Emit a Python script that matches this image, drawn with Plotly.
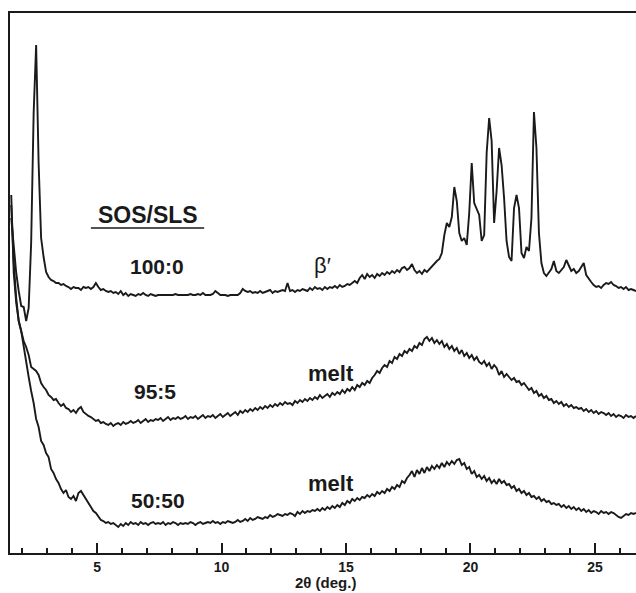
import plotly.graph_objects as go

# 2-theta sampling grid (deg.), 0.1 deg steps starting at 1.55
start_2theta = 1.55
step_2theta = 0.1
n_points = 252
two_theta = [round(start_2theta + step_2theta * i, 2) for i in range(n_points)]

# Intensities (arbitrary units, stacked as displayed)
sos_100_0 = [
    335, 305, 280, 262, 247, 246, 232, 245, 310, 440,
    508, 390, 315, 296, 281, 276, 273, 272, 270, 270,
    268, 269, 267, 266, 264, 266, 265, 265, 263, 266,
    265, 266, 264, 266, 270, 266, 263, 264, 262, 261,
    262, 260, 261, 259, 262, 258, 260, 257, 259, 258,
    257, 259, 258, 260, 258, 257, 259, 258, 257, 258,
    258, 258, 258, 258, 258, 258, 259, 258, 258, 258,
    258, 258, 259, 258, 258, 259, 258, 260, 258, 258,
    258, 259, 262, 260, 258, 258, 258, 257, 258, 258,
    258, 258, 260, 264, 262, 261, 262, 260, 261, 260,
    262, 260, 261, 262, 263, 260, 262, 261, 262, 263,
    262, 270, 262, 263, 261, 263, 262, 264, 263, 262,
    265, 263, 266, 264, 265, 263, 266, 264, 266, 265,
    267, 265, 268, 266, 267, 269, 268, 270, 272, 270,
    275, 278, 274, 279, 276, 278, 275, 279, 277, 280,
    278, 281, 279, 282, 280, 283, 281, 285, 286, 283,
    285, 289, 283, 280, 282, 279, 283, 281, 284, 287,
    290, 292, 294, 300, 318, 330, 326, 336, 366, 352,
    320, 312, 315, 308, 340, 390, 350, 344, 338, 312,
    318, 400, 435, 412, 330, 362, 405, 388, 355, 312,
    296, 292, 345, 358, 345, 300, 295, 306, 302, 335,
    441, 405, 320, 290, 280, 277, 280, 284, 292, 282,
    280, 283, 286, 293, 288, 282, 284, 280, 282, 286,
    290, 278, 274, 271, 268, 266, 267, 265, 268, 270,
    269, 271, 268, 267, 265, 266, 264, 266, 263, 264,
    263, 262,
]

sos_95_5 = [
    348, 290, 255, 232, 222, 212, 206, 198, 186, 184,
    182, 178, 170, 166, 163, 158, 156, 153, 154, 150,
    147, 149, 145, 144, 141, 143, 140, 144, 146, 141,
    139, 137, 136, 134, 132, 133, 130, 131, 129, 128,
    130, 127, 129, 130, 128, 131, 129, 130, 132, 130,
    131, 133, 130, 132, 134, 131, 133, 132, 134, 133,
    135, 132, 134, 136, 133, 135, 134, 136, 134, 135,
    137, 134, 136, 135, 137, 134, 136, 138, 135, 137,
    136, 138, 135, 137, 139, 136, 138, 140, 137, 139,
    141, 138, 142, 140, 143, 141, 144, 142, 145, 143,
    146, 144, 147, 145, 148, 146, 149, 147, 150, 148,
    151, 149, 150, 148, 152, 150, 153, 151, 154, 152,
    155, 153, 156, 154, 158, 155, 157, 159, 156, 160,
    158, 161, 159, 163, 160, 164, 162, 166, 163, 168,
    166, 170, 168, 172, 170, 175, 178, 182, 180, 185,
    188, 186, 192, 190, 196, 194, 199, 197, 202, 200,
    204, 202, 207, 205, 210, 208, 214, 216, 212, 215,
    210, 213, 209, 212, 206, 209, 204, 207, 202, 205,
    199, 203, 197, 200, 195, 198, 193, 196, 191, 189,
    192, 187, 190, 184, 188, 185, 178, 182, 176, 179,
    176, 173, 175, 171, 172, 168, 170, 166, 163, 165,
    160, 162, 157, 159, 155, 157, 153, 154, 150, 152,
    149, 151, 147, 149, 146, 148, 145, 146, 144, 145,
    142, 144, 141, 143, 140, 142, 139, 141, 140, 138,
    140, 137, 139, 136, 138, 137, 135, 138, 136, 137,
    135, 137,
]

sos_50_50 = [
    358, 280, 250, 232, 222, 205, 190, 176, 162, 150,
    134, 126, 112, 108, 100, 96, 84, 80, 74, 70,
    64, 60, 63, 56, 54, 57, 52, 60, 62, 58,
    54, 50, 47, 42, 40, 37, 33, 32, 30, 31,
    29, 30, 28, 26, 29, 27, 30, 28, 31, 29,
    30, 28, 31, 29, 30, 28, 30, 31, 29, 30,
    29, 31, 28, 30, 29, 31, 30, 28, 30, 29,
    30, 29, 31, 30, 28, 30, 31, 29, 30, 31,
    30, 32, 30, 31, 29, 31, 30, 32, 31, 30,
    31, 33, 31, 32, 34, 32, 35, 33, 34, 36,
    35, 34, 36, 35, 38, 36, 37, 39, 38, 37,
    39, 38, 40, 39, 37, 41, 39, 42, 40, 42,
    41, 43, 42, 44, 42, 45, 43, 46, 44, 47,
    45, 48, 46, 50, 48, 52, 50, 54, 52, 55,
    53, 56, 55, 58, 56, 59, 57, 61, 59, 62,
    60, 64, 62, 66, 64, 68, 66, 72, 70, 75,
    78, 82, 76, 83, 79, 85, 80, 86, 82, 87,
    84, 88, 85, 90, 86, 91, 88, 92, 89, 93,
    94, 88, 90, 84, 86, 79, 82, 76, 78, 74,
    77, 72, 75, 70, 73, 69, 74, 70, 72, 68,
    69, 65, 67, 62, 64, 60, 62, 58, 60, 56,
    57, 54, 56, 52, 54, 51, 52, 49, 50, 48,
    49, 46, 48, 45, 47, 44, 46, 43, 45, 42,
    44, 41, 43, 40, 42, 41, 39, 42, 40, 41,
    39, 41, 40, 38, 36, 35, 37, 39, 38, 40,
    39, 40,
]

series = [("100:0", sos_100_0), ("95:5", sos_95_5), ("50:50", sos_50_50)]

# label texts and anchor positions (2theta, intensity)
ratio_labels = ["100:0", "95:5", "50:50"]
ratio_label_x = [7.41, 7.33, 7.45]
ratio_label_y = [287, 162, 53]
phase_labels = ["\u03b2\u2032", "melt", "melt"]
phase_label_x = [14.05, 14.4, 14.4]
phase_label_y = [288, 180, 70]
x_ticks = [5, 10, 15, 20, 25]
x_tick_text = ["<b>5</b>", "<b>10</b>", "<b>15</b>", "<b>20</b>", "<b>25</b>"]
x_title = "<b>2\u03b8 (deg.)</b>"

FONT = "Liberation Sans, Arial, Helvetica, sans-serif"

fig = go.Figure()
for name, vals in series:
    fig.add_trace(go.Scatter(x=two_theta[:len(vals)], y=vals, mode="lines",
                             line=dict(color="#1a1a1a", width=1.9),
                             name=name, showlegend=False))

for t, x, y in zip(ratio_labels, ratio_label_x, ratio_label_y):
    fig.add_annotation(x=x, y=y, text="<b>" + t + "</b>", showarrow=False,
                       font=dict(family=FONT, size=21, color="#1a1a1a"))
for t, x, y in zip(phase_labels, phase_label_x, phase_label_y):
    txt = "<b>" + t + "</b>" if t == "melt" else t
    fig.add_annotation(x=x, y=y, text=txt, showarrow=False,
                       font=dict(family=FONT, size=22, color="#1a1a1a"))

fig.add_annotation(x=7.05, y=338, text="<b>SOS/SLS</b>", showarrow=False,
                   font=dict(family=FONT, size=23, color="#1a1a1a"))
fig.add_shape(type="line", x0=4.75, x1=9.3, y0=325, y1=325,
              line=dict(color="#1a1a1a", width=1.5))

# x-axis title placed just below the tick labels, flush with the bottom edge
fig.add_annotation(x=14.16, xref="x", y=-0.0722, yref="paper", yanchor="bottom",
                   text=x_title, showarrow=False, borderpad=0,
                   font=dict(family=FONT, size=15, color="#1a1a1a"))

fig.update_layout(
    width=636, height=593,
    margin=dict(l=10, r=0, t=13, b=40),
    paper_bgcolor="white", plot_bgcolor="white",
    font=dict(family=FONT, color="#1a1a1a"),
    xaxis=dict(range=[1.5, 26.65], tickvals=x_ticks, ticktext=x_tick_text,
               ticks="inside", ticklen=10,
               tickwidth=1.5, tickcolor="#1a1a1a", showline=True, linecolor="#1a1a1a",
               linewidth=2, mirror=True, showgrid=False, zeroline=False,
               tickfont=dict(size=14, family=FONT, color="#1a1a1a"),
               minor=dict(dtick=1, tick0=0, ticks="inside", ticklen=5, tickwidth=1.5,
                          tickcolor="#1a1a1a", showgrid=False)),
    yaxis=dict(range=[0, 540], showticklabels=False, ticks="", showline=True,
               linecolor="#1a1a1a", linewidth=2, showgrid=False, zeroline=False),
)

fig.write_html("out.html")
